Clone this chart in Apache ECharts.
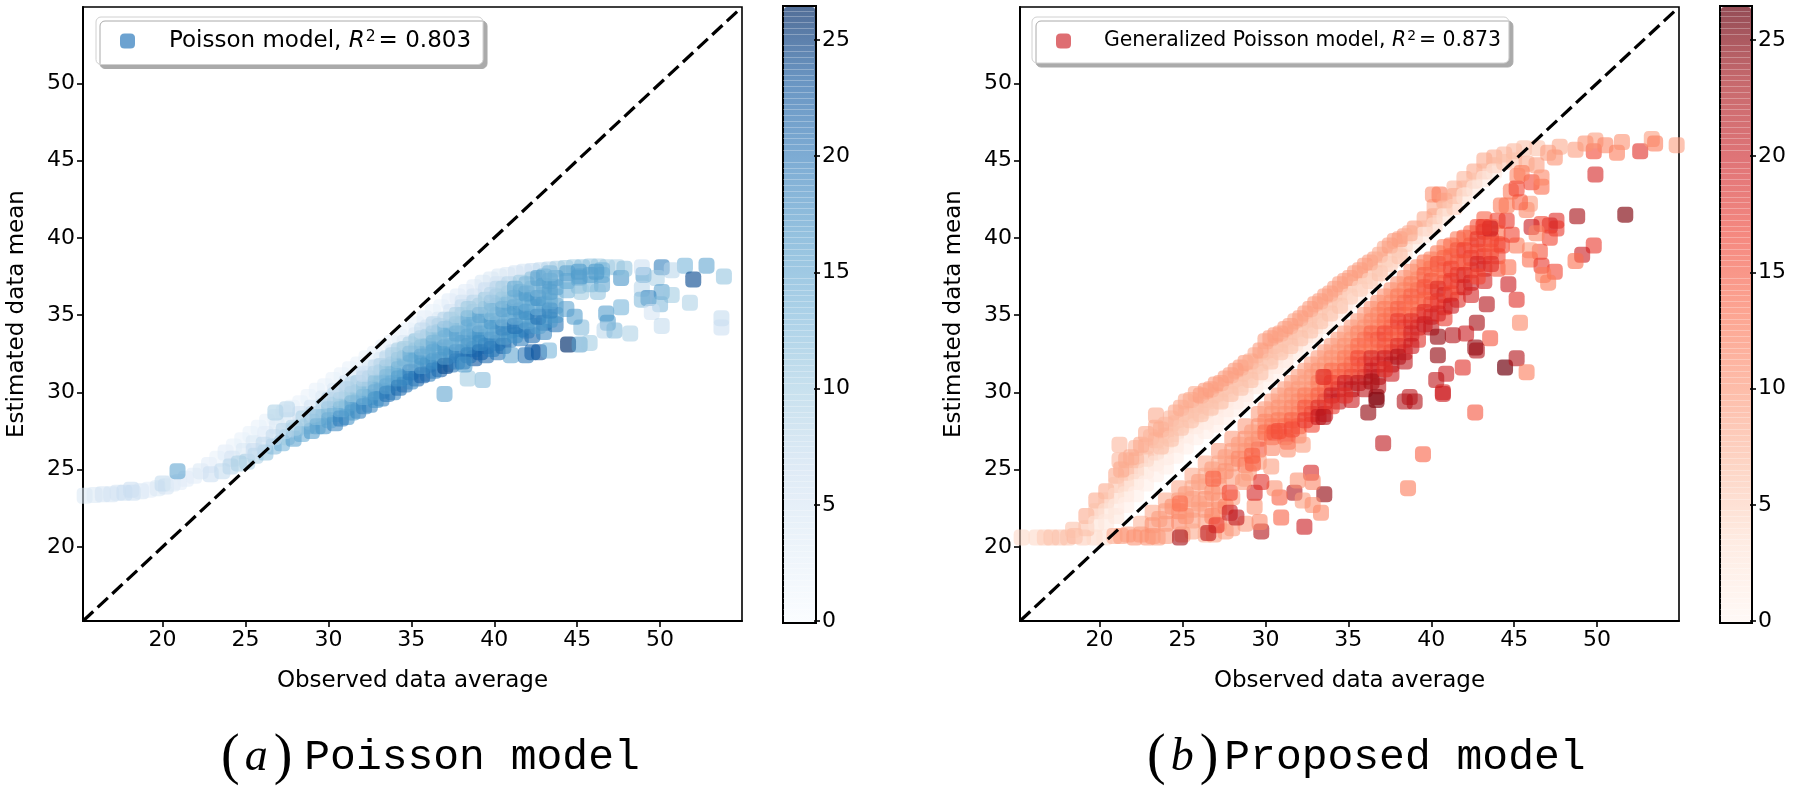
<!DOCTYPE html>
<html>
<head>
<meta charset="utf-8">
<title>Poisson vs proposed model</title>
<script src="https://cdn.jsdelivr.net/npm/echarts@6/dist/echarts.min.js"></script>
<style>
body { margin: 0; background: #fff; }
#main { width: 1800px; height: 788px; }
</style>
</head>
<body>
<div id="main"></div>
<script>
// every row is [observed average, estimated mean, colour value]
const poissonRidge = [
[15.3,23.3,4],[15.9,23.35,4],[16.4,23.4,5],[16.9,23.4,5],[17.3,23.5,5],[17.7,23.5,6],[18.1,23.7,6],[18.2,23.5,6],[18.7,23.6,5],[19.2,23.7,3],
[19.7,23.8,4],[20.2,23.9,5],[20.0,24.1,7],[20.6,24.1,4],[21,24.2,3],[21.4,24.4,3],[21.9,24.6,3],[22.3,24.9,4],[22.8,25.3,3],[23.3,25.7,2],
[23.8,26.1,3],[24.3,26.5,2],[24.8,26.9,2],[25.3,27.3,2],[25.8,27.7,2],[26.3,28.1,2],[26.8,28.4,2],[27.3,28.7,2],[27.8,29,2],[28.3,29.3,2],
[28.8,29.7,2],[29.3,30.1,2],[29.8,30.4,2],[30.3,30.8,2],[30.8,31.1,2],[31.3,31.5,2],[31.8,31.8,2],[32.3,32.2,2],[32.8,32.5,2],[33.3,32.9,2],
[33.8,33.2,2],[34.3,33.6,2],[34.8,34,2],[35.3,34.4,2],[35.8,34.8,3],[36.3,35.2,2],[36.8,35.5,2],[37.3,35.9,3],[37.8,36.2,3],[38.3,36.5,3],
[38.8,36.8,3],[39.3,37.1,4],[39.8,37.3,4],[40.3,37.5,4],[40.8,37.6,4],[41.3,37.7,5],[41.8,37.8,5],[42.3,37.85,6],[42.8,37.9,7],[43.3,37.95,8],
[43.8,38,9],[44.3,38.05,10],[44.8,38.1,10],[45.3,38.1,11],[45.8,38.15,11],[46.3,38.15,10],[46.8,38.1,10],[47.4,38.1,9]
];
const poissonSecond = [
[24.2,25.7,5],[24.9,26.2,4],[25.5,26.7,4],[26.2,27.3,3],[26.9,27.8,4],[27.6,28.2,4],[28.3,28.6,5],[29,29,5],[29.7,29.6,4],[30.4,30.1,4],
[31.1,30.6,5],[31.8,31.1,4],[32.5,31.6,4],[33.2,32.1,4],[33.9,32.6,5],[34.6,33.2,4],[35.3,33.7,4],[36,34.2,5],[36.7,34.7,4],[37.4,35.2,5],
[38.1,35.8,5],[38.8,36.2,5],[39.5,36.6,6],[40.2,37,5]
];
const poissonBand = [
[22.9,24.7,6],[23.6,24.9,7],[24.1,25.2,8],[24.6,25.4,9],[25.1,25.5,9],[25.6,25.9,9],[26.2,26.1,11],[26.7,26.5,12],[27.2,26.7,13],[27.5,27.1,10],
[27.9,27,15],[28,27.6,8],[28.4,27.3,14],[28.7,27.8,11],
[29,27.5,16],[29,28.1,12],[29.7,27.8,17],[29.7,28.4,13],[29.7,29.1,9],
[30.4,28,18],[30.4,28.6,14],[30.4,29.2,11],[30.4,29.8,8],
[31.1,28.4,17],[31.1,29,15],[31.1,29.6,11],[31.1,30.2,9],
[31.8,28.8,19],[31.8,29.4,14],[31.8,30,12],[31.8,30.6,10],
[32.5,29.2,18],[32.5,29.7,16],[32.5,30.3,13],[32.5,30.9,11],
[33.2,29.6,19],[33.2,30.1,17],[33.2,30.7,14],[33.2,31.3,12],[33.2,31.7,9],
[33.9,30,18],[33.9,30.6,15],[33.9,31.2,13],[33.9,31.8,11],[33.9,32.4,9],
[34.6,30.5,20],[34.6,31,17],[34.6,31.6,13],[34.6,32.2,15],[34.6,32.8,10],
[35.3,30.9,21],[35.3,31.5,16],[35.3,32.1,14],[35.3,32.7,13],[35.3,33.3,11],
[36,31.2,19],[36,31.8,18],[36,32.4,13],[36,33,15],[36,33.6,11],
[36.7,31.5,22],[36.7,32.1,16],[36.7,32.7,15],[36.7,33.3,13],[36.7,33.9,12],[36.7,34.3,9],
[37.4,31.8,20],[37.4,32.4,17],[37.4,33,14],[37.4,33.6,13],[37.4,34.2,14],[37.4,34.7,10],
[38.1,32,21],[38.1,32.6,18],[38.1,33.2,15],[38.1,33.8,13],[38.1,34.4,12],[38.1,35,10],[38.1,35.5,7],
[38.8,32.2,23],[38.8,32.8,19],[38.8,33.4,14],[38.8,34,16],[38.8,34.6,13],[38.8,35.2,11],[38.8,35.8,8],
[39.5,32.4,21],[39.5,33,20],[39.5,33.6,15],[39.5,34.2,14],[39.5,34.8,12],[39.5,35.4,13],[39.5,36,10],
[40.2,32.6,20],[40.2,33.2,17],[40.2,33.8,16],[40.2,34.4,15],[40.2,35,14],[40.2,35.6,12],[40.2,36.2,12],[40.2,36.7,8],
[40.9,33.4,18],[40.9,34,16],[40.9,34.6,16],[40.9,35.2,13],[40.9,35.8,14],[40.9,36.4,11],[40.9,37,8],
[41.6,33.5,19],[41.6,34.1,17],[41.6,34.7,15],[41.6,35.3,18],[41.6,35.9,12],[41.6,36.5,15],[41.6,37.1,10],
[42.3,33.7,21],[42.3,34.3,15],[42.3,34.9,16],[42.3,35.5,14],[42.3,36.1,15],[42.3,36.7,13],[42.3,37.3,11],
[43,33.9,18],[43,34.5,19],[43,35.1,13],[43,35.7,15],[43,36.3,12],[43,36.9,16],[43,37.5,14],
[43.7,34.4,20],[43.7,35,16],[43.7,35.6,15],[43.7,36.2,11],[43.7,36.8,16],[43.7,37.4,15],
[44.4,36.6,13],[44.4,37.2,14],[44.4,37.7,15],[45.1,36.9,12],[45.1,37.4,14],[45.1,37.8,16],
[45.8,37,13],[45.8,37.6,15],[46.5,37,15],[46.5,37.6,14],[46.5,37.9,13]
];
const poissonFill = [
[25.5,26.2,6],[26.1,26.6,7],[26.7,27.1,7],[27.3,27.5,8],[27.9,27.7,9],[28.5,28.3,9],[29.1,28.6,8],[29.35,27.8,15],[29.35,28.4,11],
[30.05,28.2,15],[30.05,28.9,12],[30.05,29.5,8],[30.75,28.3,19],[30.75,28.9,13],[30.75,29.5,10],[30.75,30.1,7],
[31.45,28.7,16],[31.45,29.3,15],[31.45,29.9,10],[31.45,30.5,8],[32.15,29.1,18],[32.15,29.7,13],[32.15,30.3,11],[32.15,30.9,8],[32.15,31.2,6],
[32.85,29.5,17],[32.85,30,15],[32.85,30.6,12],[32.85,31.2,10],[32.85,31.6,7],[33.55,29.9,20],[33.55,30.4,15],[33.55,31,13],[33.55,31.6,11],[33.55,32.2,8],
[34.25,30.3,21],[34.25,30.9,16],[34.25,31.5,14],[34.25,32.1,11],[34.25,32.7,9],[34.95,30.7,18],[34.95,31.3,19],[34.95,31.9,12],[34.95,32.5,14],[34.95,33.1,9],
[35.65,31.1,22],[35.65,31.7,15],[35.65,32.3,16],[35.65,32.9,12],[35.65,33.5,10],[35.65,34,7],[36.35,31.4,19],[36.35,32,17],[36.35,32.6,14],[36.35,33.2,14],[36.35,33.8,11],[36.35,34.4,8],
[37.05,31.7,24],[37.05,32.3,15],[37.05,32.9,16],[37.05,33.5,12],[37.05,34.1,13],[37.05,34.7,8],[37.75,32,19],[37.75,32.6,18],[37.75,33.2,13],[37.75,33.8,15],[37.75,34.4,11],[37.75,35,9],
[38.45,32.4,20],[38.45,33,16],[38.45,33.6,15],[38.45,34.2,13],[38.45,34.8,14],[38.45,35.4,10],[39.15,32.6,22],[39.15,33.2,17],[39.15,33.8,17],[39.15,34.4,12],[39.15,35,15],[39.15,35.6,9],
[39.85,32.8,19],[39.85,33.4,18],[39.85,34,13],[39.85,34.6,16],[39.85,35.2,11],[39.85,35.8,12],[39.85,36.3,8],[40.55,33,21],[40.55,33.6,15],[40.55,34.2,18],[40.55,34.8,12],[40.55,35.4,15],[40.55,36,11],[40.55,36.7,9],
[41.25,33.7,17],[41.25,34.3,20],[41.25,34.9,13],[41.25,35.5,16],[41.25,36.1,12],[41.25,36.7,14],[41.95,34,19],[41.95,34.6,14],[41.95,35.2,17],[41.95,35.8,13],[41.95,36.4,16],[41.95,37,12],
[42.65,34.3,15],[42.65,34.9,20],[42.65,35.5,13],[42.65,36.1,17],[42.65,36.7,12],[42.65,37.4,15],[43.35,34.7,16],[43.35,35.3,18],[43.35,35.9,14],[43.35,36.5,15],[43.35,37.2,15],[43.35,37.7,12]
];
const poissonOuter = [
[20.9,24.9,15],[26.8,28.7,9],[27.5,28.9,8],[37,29.9,15],[39.3,30.8,12],[38.4,30.9,10],[38.2,31.8,16],
[41,32.4,15],[41.9,32.4,20],[42.3,32.6,22],[42.7,32.6,23],[43.3,32.7,13],[44.45,33.1,26],[45.15,33.1,15],[45.75,33.2,10],
[45.25,34.2,12],[44.85,34.9,16],[44.35,35.4,15],[46.75,35.1,16],[46.85,34.5,16],[46.65,34,8],[47.25,34,12],[48.2,33.8,9],[47.65,35.5,13],
[50.1,38.1,19],[51.5,38.2,13],[52.8,38.2,15],[53.85,37.5,11],[52,37.3,24],[49,37.6,16],[48.9,38.1,6],[50.7,37.9,8],[49.8,37.4,9],
[47.65,37.4,17],[47.85,38,11],[48.9,36.7,8],[50.1,36.5,15],[50.7,36.3,10],[49.3,36.1,18],[48.9,36,12],[50,35.7,12],[51.8,35.8,9],[49.5,35.2,5],
[50.1,34.3,7],[53.7,34.8,7],[53.7,34.2,6],[55.2,33.8,8],[45.25,36.5,10],[46.25,36.5,11],[46.15,37.8,16],[45.15,37.5,15]
];

const proposedUpper = [
[15.3,20.6,4],[16.2,20.6,4],[16.7,20.6,5],[17.1,20.6,6],[17.6,20.6,6],[18.1,20.6,6],[18.5,20.7,7],[18.4,21.1,6],[19,20.6,5],[19.7,20.6,4],[20.3,20.6,3],
[19.2,22,8],[19.2,21.2,6],[19.8,23,8],[19.8,22.3,6],[19.8,21.5,3],[20.4,23.6,8],[20.4,23,6],[20.4,22.3,3],[20.4,21.6,2],
[21,24.6,8],[21,24,6],[21,23.3,4],[21,22.6,2],[21,22,2],[21.2,26.6,7],[21.2,25.6,7],[21.6,25.6,8],[21.6,24.8,7],[21.6,24.1,5],[21.6,23.4,3],[21.6,22.7,1],
[22.2,26.4,7],[22.2,25.6,8],[22.2,24.9,6],[22.2,24.2,3],[22.2,23.4,1],[22.8,27.3,8],[22.8,26.5,7],[22.8,25.7,6],[22.8,24.9,3],[22.8,24.1,1],
[23.4,28.5,8],[23.4,27.7,8],[23.4,26.9,8],[23.4,26.1,6],[23.4,25.4,3],[23.4,24.7,1],[24,27.9,7],[24,27.2,7],[24,26.5,5],[24,25.8,2],[24,25.2,1],
[24.6,28.7,8],[24.6,28,7],[24.6,27.3,6],[24.6,26.6,3],[24.6,25.9,1],[25.2,29.4,8],[25.2,28.6,7],[25.2,27.9,5],[25.2,27.2,2],[25.2,26.5,1],
[25.8,29.9,8],[25.8,29.2,7],[25.8,28.5,6],[25.8,27.8,3],[25.8,27.1,1],[26.4,30.1,9],[26.4,29.5,7],[26.4,28.8,6],[26.4,28.1,3],[26.4,27.5,1],
[27,30.5,9],[27,29.8,8],[27,29.1,5],[27,28.4,2],[27,27.9,1],[27.6,30.9,9],[27.6,30.2,7],[27.6,29.5,5],[27.6,28.9,2],[27.6,28.4,1],
[28.2,31.4,9],[28.2,30.7,7],[28.2,30,5],[28.2,29.4,2],[28.2,28.9,1],[28.8,31.9,9],[28.8,31.2,8],[28.8,30.5,5],[28.8,29.9,2],[28.8,29.5,1],
[29.4,32.4,8],[29.4,31.7,7],[29.4,31,5],[29.4,30.4,2],[30,33.3,9],[30,32.6,7],[30,31.9,6],[30,31.2,3],[30,30.7,1],
[30.6,33.7,9],[30.6,33,8],[30.6,32.3,6],[30.6,31.7,3],[30.6,31.2,1],[31.2,34.1,9],[31.2,33.4,7],[31.2,32.7,5],[31.2,32.1,3],[31.2,31.8,1],
[31.8,34.6,8],[31.8,33.9,8],[31.8,33.2,5],[31.8,32.6,2],[32.4,35.1,9],[32.4,34.4,7],[32.4,33.7,4],[32.4,33.1,2],
[33,35.7,9],[33,35,7],[33,34.3,5],[33,33.7,2],[33.6,36.2,9],[33.6,35.5,7],[33.6,34.8,4],[33.6,34.3,2],
[34.2,36.7,9],[34.2,36,7],[34.2,35.3,4],[34.2,34.8,1],[34.8,37.2,9],[34.8,36.5,7],[34.8,35.8,4],[34.8,35.4,1],
[35.4,37.7,9],[35.4,37,6],[35.4,36.4,3],[35.4,35.9,1],[36,38.2,9],[36,37.5,7],[36,36.9,4],[36,36.5,1],
[36.6,38.6,9],[36.6,38,6],[36.6,37.4,3],[37.2,39.3,8],[37.2,38.6,7],[37.2,38,3],[37.8,39.8,9],[37.8,39.2,6],[37.8,38.6,3],
[38.4,40.1,9],[38.4,39.6,7],[38.4,39.1,3],[39,40.6,9],[39,40.1,6],[39,39.7,2],[39.6,41.2,8],[39.6,40.6,7],[39.6,40.2,2],
[40.2,42,8],[40.2,41.4,8],[40.2,40.8,4],[40.1,42.8,10],[40.5,42.8,12],[40.8,42.4,9],[40.8,41.9,6],[40.8,41.4,3],
[41.4,43.2,7],[41.4,42.7,8],[41.4,42,5],[42,43.8,7],[42,43.2,7],[42,42.7,3],[42.6,44.3,8],[42.6,43.7,6],[42.6,43.2,2],
[43.2,45,8],[43.2,44.3,7],[43.2,43.8,2],[43.8,45.2,8],[43.8,44.7,7],[43.8,44.3,2],[44.4,45.4,7],[44.4,44.9,6],[45,45.6,7],[45,45,6],[45.6,45.8,6],[46.4,45.8,6]
];
const proposedUpperFill = [
[21.3,25,8],[21.9,25.8,8],[22.5,26.6,8],[23.1,27.1,7],[23.7,27.6,8],[24.3,28.3,7],[24.9,29,8],[25.5,29.5,8],[26.1,29.8,9],[26.7,30.2,9],[27.3,30.6,9],[27.9,31.1,9],
[28.5,31.6,9],[29.1,32,8],[29.7,32.7,9],[30.3,33.5,9],[30.9,33.8,9],[31.5,34.3,9],[32.1,34.8,9],[32.7,35.4,9],[33.3,35.9,9],[33.9,36.4,9],[34.5,37,9],[35.1,37.4,9],
[35.7,37.9,9],[36.3,38.4,9],[36.9,38.9,8],[37.5,39.5,9],[38.1,39.9,9],[38.7,40.3,8],
[23.7,26.5,6],[24.3,27,6],[24.9,27.7,6],[25.5,28.2,6],[26.1,28.6,6],[26.7,29,6],[27.3,29.4,6],[27.9,29.9,6],[28.5,30.3,6],[29.1,30.8,6],[29.7,31.3,6],[30.3,32,6],
[30.9,32.6,6],[31.5,33,6],[32.1,33.5,6],[32.7,34,6],[33.3,34.6,6],[33.9,35.1,6],[34.5,35.6,6],[35.1,36.2,5],[35.7,36.7,5],[36.3,37.2,5],[36.9,37.7,6],[37.5,38.3,5],[38.1,38.8,6]
];
const proposedLower = [
[20.9,20.7,8],[21.7,20.8,9],[22.5,21.5,7],[22.5,20.8,9],[23.2,22.2,8],[23.2,21.4,10],[23.2,20.7,10],[24,23,8],[24,22.3,9],[24,21.5,10],[24,20.7,9],
[24.8,23.8,8],[24.8,23,9],[24.8,22.3,11],[24.8,21.6,11],[25.6,24.6,8],[25.6,23.8,8],[25.6,23.1,9],[25.6,22.4,9],[25.6,21.7,9],[25.6,21,8],
[26.4,25.4,8],[26.4,24.6,8],[26.4,23.9,8],[26.4,23.1,10],[26.4,22.4,10],[26.4,21.6,9],[26.4,20.8,8],
[27.2,26.2,9],[27.2,25.4,8],[27.2,24.6,9],[27.2,23.9,10],[27.2,23,10],[27.2,22.4,10],[27.2,21.5,9],
[28,27,9],[28,26.2,9],[28,25.4,10],[28,24.5,9],[28,23.2,9],[28,21.2,9],[28.8,27.8,9],[28.8,27,10],[28.8,26.2,11],[28.8,25.3,13],[28.8,24.4,8],[28.8,21.5,9],
[29.6,28.6,9],[29.6,27.8,10],[29.6,27,12],[29.6,26.3,15],[29.6,25.5,9],[30.4,29.4,9],[30.4,28.6,10],[30.4,27.8,13],[30.4,27.1,14],[30.4,26.4,11],
[31.2,30.2,9],[31.2,29.4,9],[31.2,28.6,11],[31.2,27.8,14],[31.2,27.1,13],[32,31,9],[32,30.2,10],[32,29.4,12],[32,28.6,13],[32,27.8,15],[32,27.2,12],
[32.8,31.8,9],[32.8,31,10],[32.8,30.2,11],[32.8,29.4,13],[32.8,28.6,17],[32.8,27.9,16],[33.6,32.6,9],[33.6,31.8,10],[33.6,31,17],[33.6,30.2,15],[33.6,29.4,19],[33.6,28.6,20],
[34.4,33.4,9],[34.4,32.6,10],[34.4,31.8,11],[34.4,31,15],[34.4,30.2,19],[34.4,29.4,21],[35.2,34.2,9],[35.2,33.4,10],[35.2,32.6,13],[35.2,31.8,15],[35.2,31,18],[35.2,30.2,22],[35.2,29.5,20],
[36,35,9],[36,34.2,11],[36,33.4,15],[36,32.6,12],[36,31.8,17],[36,31,20],[36,30.2,21],[36.8,35.8,10],[36.8,35,12],[36.8,34.2,12],[36.8,33.4,16],[36.8,32.6,14],[36.8,31.8,18],[36.8,31,22],[36.8,30.4,21],
[37.6,36.6,10],[37.6,35.8,11],[37.6,35,14],[37.6,34.2,15],[37.6,33.4,13],[37.6,32.6,17],[37.6,31.8,22],[37.6,31.2,20],[38.4,37.4,10],[38.4,36.6,12],[38.4,35.8,15],[38.4,35,14],[38.4,34.2,17],[38.4,33.4,16],[38.4,32.6,19],[38.4,32,21],
[39.2,38.1,10],[39.2,37.3,11],[39.2,36.6,14],[39.2,35.8,13],[39.2,35,17],[39.2,34.2,19],[39.2,33.4,18],[40,38.6,11],[40,38,13],[40,37.2,16],[40,36.5,15],[40,35.7,17],[40,34.9,19],[40,34.2,21],
[40.8,39.4,11],[40.8,38.7,15],[40.8,37.9,14],[40.8,37.1,16],[40.8,36.3,20],[40.8,35.5,18],[40.8,34.8,17],[41.6,39.9,12],[41.6,39.2,17],[41.6,38.4,15],[41.6,37.6,18],[41.6,36.8,15],[41.6,36,18],
[42.4,40.3,13],[42.4,39.5,15],[42.4,38.7,17],[42.4,37.9,16],[42.4,37.1,20],[42.4,36.3,19],[43.2,41.2,14],[43.2,40.4,18],[43.2,39.6,14],[43.2,38.8,17],[43.2,38,18],[43.2,37.2,19],
[44,41.1,16],[44,40.3,13],[44,39.6,15],[44,38.8,16],[44,38,15],[44.2,42.1,12],[44.8,43,12],[45.2,44,11]
];
const proposedLowerFill = [
[21.3,20.7,9],[22.1,20.6,10],[22.9,20.6,10],[23.5,20.6,9],[25,20.8,9],[26.9,20.8,9],[27.6,21,9],
[23.6,21.8,9],[24.4,22.6,10],[25.2,23.4,9],[25.2,22,10],[26,24.2,9],[26,22.8,9],[26.8,25,9],[26.8,23.5,10],[26.8,22,11],[27.6,25.8,9],[27.6,24.9,10],[27.6,22.6,11],
[28.4,26.6,9],[28.4,25.7,11],[29.2,27.4,9],[29.2,26.6,10],[29.2,25.9,14],[29,24.8,9],
[30,28.9,9],[30,28.1,11],[30,27.4,13],[30.8,29.8,9],[30.8,29,10],[30.8,28.2,12],[30.8,27.5,16],
[31.6,30.6,9],[31.6,29.8,10],[31.6,29,11],[31.6,28.2,14],[31.6,27.6,16],[32.4,31.4,9],[32.4,30.6,9],[32.4,29.8,12],[32.4,29,15],[32.4,28.2,17],
[33.2,32.2,9],[33.2,31.4,10],[33.2,30.6,12],[33.2,29.8,14],[33.2,29,18],[33.2,28.4,20],[34,33,9],[34,32.2,10],[34,31.4,13],[34,30.6,16],[34,29.8,20],[34,29.1,17],
[34.8,33.8,9],[34.8,33,10],[34.8,32.2,12],[34.8,31.4,14],[34.8,30.6,20],[34.8,29.8,18],[35.6,34.6,9],[35.6,33.8,11],[35.6,33,13],[35.6,32.2,16],[35.6,31.4,15],[35.6,30.6,21],
[36.4,35.4,10],[36.4,34.6,11],[36.4,33.8,14],[36.4,33,13],[36.4,32.2,19],[36.4,31.4,20],[36.4,30.7,23],[37.2,36.2,10],[37.2,35.4,12],[37.2,34.6,13],[37.2,33.8,16],[37.2,33,15],[37.2,32.2,20],[37.2,31.5,18],
[38,37,10],[38,36.2,12],[38,35.4,14],[38,34.6,17],[38,33.8,15],[38,33,18],[38,32.3,22],[38.8,37.8,10],[38.8,37,12],[38.8,36.2,14],[38.8,35.4,13],[38.8,34.6,18],[38.8,33.8,19],[38.8,33,20],
[39.6,38.4,12],[39.6,37.6,14],[39.6,36.8,15],[39.6,36,14],[39.6,35.2,18],[39.6,34.4,20],[40.4,39,12],[40.4,38.3,15],[40.4,37.5,13],[40.4,36.7,18],[40.4,35.9,17],[40.4,35.1,19],
[41.2,39.5,13],[41.2,38.8,14],[41.2,38,16],[41.2,37.2,17],[41.2,36.4,16],[41.2,35.6,20],[42,40,14],[42,39.2,16],[42,38.4,15],[42,37.6,18],[42,36.8,19],
[42.8,40.7,15],[42.8,39.9,17],[42.8,39.1,16],[42.8,38.3,19],[42.8,37.5,16],[43.6,40.7,14],[43.6,39.9,16],[43.6,39.1,15],[43.6,38.3,18]
];
const proposedOuter = [
[51.7,41.5,25],[48.8,41.4,23],[49.9,44.1,19],[52.6,45.6,18],[51.2,45.5,12],[49.8,45.6,16],[49.9,46.3,9],[51.5,46.2,10],[53.3,46.4,9],[53.5,46.1,12],[54.8,46,9],
[50.5,46,11],[49.3,46.1,10],[48.7,45.7,9],[47.75,45.9,8],[47.45,45.2,10],[49.8,39.5,17],[49.1,38.9,20],[48.7,38.5,13],[46.55,39.1,15],[45.95,39.2,9],[45.95,38.6,13],
[46.65,38.2,17],[47.45,37.8,16],[46.75,37.6,12],[47.05,37.1,12],[47.55,41.1,18],[47.55,40.6,17],[47.15,40.8,19],[47.15,40,16],[46.65,40.9,16],[46.05,40.7,20],[46.35,40.3,11],
[45.15,39.5,12],[44.85,40.2,16],[44.25,39.5,16],[44.55,41.1,17],[43.55,40.6,20],[43.15,40.7,17],[45.75,41.8,11],[45.95,42.2,9],[45.35,42.3,14],[44.55,42.1,12],[45.15,43.2,16],
[46.05,43.6,16],[46.65,43.3,13],[46.65,43.9,11],[46.35,44.7,9],[45.75,44.8,8],[45.45,44.2,12],[47.05,45.5,9],
[44.45,31.6,26],[45.15,32.2,22],[45.75,31.3,12],[45.35,34.5,11],[45.15,36,18],[43.55,33.5,15],[42.75,32.7,22],[42.65,32.9,24],[41.9,31.6,18],[42.75,34.5,23],[43.35,35.7,22],
[42.1,33.8,20],[41.3,33.7,22],[40.4,33.6,24],[40.4,32.4,24],[40.9,31.2,20],[40.3,30.8,21],[40.7,30,19],[38.7,29.7,21],[36.7,29.7,24],[33.5,31,18],[44.65,37,20],[44.65,38.1,13],
[42.65,28.7,15],[37.1,26.7,21],[39.5,26,14],[38.6,23.8,12],[33.55,23.4,24],[31.75,23.5,22],[32.75,24.8,19],[32.85,24.2,11],[31.95,24.3,10],[30.85,23.2,14],[30.55,23.8,10],
[32.25,23,9],[32.85,22.7,10],[33.35,22.2,11],[30.95,21.9,14],[32.35,21.3,20],[29.75,21,22],[29.65,21.6,11],[27.85,22.2,20],[28.25,21.9,21],[29.35,22.6,10],[29.35,23.5,19],[29.75,24.2,18],
[24.85,20.6,23],[27.05,21.4,17],[26.55,20.9,21],[39,29.4,22],[38.4,29.4,22],[36.2,28.7,24],[40.7,29.9,20],[36.7,29.5,25],[33.5,28.4,22],[30.55,27.4,15],[31.35,26.8,15],[32.25,26.6,9],
[31.35,26.3,10],[29.25,25.4,14],[30.35,25.2,9],[26.85,24.4,14],[27.85,23.5,16],[28.65,24.2,9],[24.85,22.8,13]
];

const xTicks = [20, 25, 30, 35, 40, 45, 50];
const yTicks = [20, 25, 30, 35, 40, 45, 50];
const barTicks = [0, 5, 10, 15, 20, 25];
const axisMin = 15.2;
const axisMax = 54.94;
const barMax = 26.46;
const identityLine = [[axisMin, axisMin], [54.65, 54.65]];

const blues = ['rgba(247,251,255,0.56)', 'rgba(222,235,247,0.56)', 'rgba(198,219,239,0.56)', 'rgba(158,202,225,0.56)',
    'rgba(107,174,214,0.56)', 'rgba(66,146,198,0.56)', 'rgba(33,113,181,0.58)', 'rgba(8,81,156,0.6)', 'rgba(8,48,107,0.7)'];
const reds = ['rgba(255,245,240,0.6)', 'rgba(254,224,210,0.6)', 'rgba(252,187,161,0.6)', 'rgba(252,146,114,0.6)',
    'rgba(251,106,74,0.6)', 'rgba(239,59,44,0.6)', 'rgba(203,24,29,0.6)', 'rgba(165,15,21,0.62)', 'rgba(103,0,13,0.7)'];

const markerShape = 'path://M3,0 L7,0 Q10,0 10,3 L10,7 Q10,10 7,10 L3,10 Q0,10 0,7 L0,3 Q0,0 3,0 Z';
const font = 'DejaVu Sans';

function legendRich(size, pad) {
    return {
        pad: { width: pad, height: 24 },
        t: { fontFamily: font, fontSize: size, color: '#000' },
        i: { fontFamily: font, fontSize: size, fontStyle: 'italic', color: '#000' },
        s: { fontFamily: font, fontSize: size * 0.68, color: '#000', verticalAlign: 'top', padding: [0, 3, 8, 1] }
    };
}

function captionRich(pad) {
    return {
        p: { fontFamily: 'Liberation Serif', fontSize: 56, fontWeight: 'normal', color: '#000' },
        i: { fontFamily: 'Liberation Serif', fontStyle: 'italic', fontWeight: 'normal', fontSize: 46, color: '#000', padding: [0, 6, 0, 5] },
        t: { fontFamily: 'Liberation Mono', fontSize: 43, fontWeight: 'normal', color: '#000', padding: [0, 0, 0, pad] }
    };
}

function valueAxis(gridIndex, position, name, ticks) {
    return {
        type: 'value',
        gridIndex: gridIndex,
        position: position,
        min: axisMin,
        max: axisMax,
        name: name,
        nameLocation: 'middle',
        nameGap: position == 'left' ? 54 : 49,
        nameTextStyle: { fontFamily: font, fontSize: 23, color: '#000' },
        axisLine: { show: true, onZero: false, lineStyle: { color: '#000', width: 2 } },
        axisTick: { show: true, customValues: ticks, length: 6, lineStyle: { color: '#000', width: 1.6 } },
        axisLabel: { show: true, customValues: ticks, margin: 8, fontFamily: font, fontSize: 22, color: '#000' },
        splitLine: { show: false }
    };
}

function barAxis(gridIndex) {
    return {
        type: 'value',
        gridIndex: gridIndex,
        position: 'right',
        min: 0,
        max: barMax,
        interval: 5,
        z: 6,
        axisLine: { show: false, onZero: false },
        axisTick: { show: true, customValues: barTicks, length: 6, lineStyle: { color: '#000', width: 1.6 } },
        axisLabel: { show: true, customValues: barTicks, margin: 8, fontFamily: font, fontSize: 22, color: '#000' },
        splitLine: { show: false },
        minorTick: { show: false, splitNumber: 20 },
        minorSplitLine: { show: true, lineStyle: { color: 'rgba(255,255,255,0.28)', width: 1 } }
    };
}

function hiddenAxis(gridIndex) {
    return { type: 'value', gridIndex: gridIndex, min: 0, max: 1, show: false };
}

function scatterSeries(name, gridIndex, points) {
    return {
        name: name,
        type: 'scatter',
        xAxisIndex: gridIndex,
        yAxisIndex: gridIndex,
        symbol: markerShape,
        symbolSize: 16,
        clip: true,
        large: false,
        encode: { x: 0, y: 1 },
        itemStyle: { opacity: 1 },
        data: points,
        z: 2
    };
}

function identitySeries(gridIndex) {
    return {
        type: 'line',
        xAxisIndex: gridIndex,
        yAxisIndex: gridIndex,
        data: identityLine,
        symbol: 'none',
        lineStyle: { color: '#000', width: 3.2, type: [14, 6] },
        z: 3
    };
}

function colourbar(seriesIndex, left, width, colours) {
    return {
        type: 'continuous',
        seriesIndex: seriesIndex,
        dimension: 2,
        min: 0,
        max: barMax,
        left: left - 1,
        top: 5,
        itemWidth: width,
        itemHeight: 615,
        calculable: false,
        showLabel: false,
        hoverLink: false,
        text: null,
        padding: 1,
        borderColor: '#000',
        borderWidth: 2,
        inRange: { color: colours },
        outOfRange: { color: ['#fff'] }
    };
}

function legendBox(name, label, left, size, pad, padRight, colour) {
    return {
        left: left,
        top: 17,
        padding: [12, padRight, 12, 24],
        icon: markerShape,
        itemWidth: 15,
        itemHeight: 15,
        backgroundColor: '#fff',
        borderColor: '#d0d0d0',
        borderWidth: 1,
        borderRadius: 5,
        shadowColor: '#aaa',
        shadowBlur: 0,
        shadowOffsetX: 4,
        shadowOffsetY: 4,
        data: [{ name: name, icon: markerShape, itemStyle: { color: colour } }],
        formatter: function () { return label; },
        textStyle: { rich: legendRich(size, pad) },
        selectedMode: false
    };
}

const poissonName = 'Poisson model';
const proposedName = 'Generalized Poisson model';

let myChart = echarts.init(document.getElementById('main'), null, { renderer: 'canvas' });
let option = {
    animation: false,
    backgroundColor: '#fff',
    title: [
        { text: '{p|(}{i|a}{p|)}{t|Poisson model}', left: 216, top: 725, textStyle: { fontWeight: 'normal', rich: captionRich(12) } },
        { text: '{p|(}{i|b}{p|)}{t|Proposed model}', left: 1142, top: 725, textStyle: { fontWeight: 'normal', rich: captionRich(6) } }
    ],
    legend: [
        legendBox(poissonName, '{pad|}{t|Poisson model, }{i|R}{s|2}{t|= 0.803}', 96, 23, 29, 12, '#6ca2d0'),
        legendBox(proposedName, '{pad|}{t|Generalized Poisson model, }{i|R}{s|2}{t|= 0.873}', 1032, 20.4, 28, 8, '#de6e72')
    ],
    grid: [
        { left: 83, top: 7, width: 659, height: 614, show: true, borderColor: '#000', borderWidth: 1.6 },
        { left: 1020, top: 7, width: 659, height: 614, show: true, borderColor: '#000', borderWidth: 1.6 },
        { left: 783, top: 6, width: 31, height: 615 },
        { left: 1720, top: 6, width: 30, height: 615 }
    ],
    xAxis: [
        valueAxis(0, 'bottom', 'Observed data average', xTicks),
        valueAxis(1, 'bottom', 'Observed data average', xTicks),
        hiddenAxis(2),
        hiddenAxis(3)
    ],
    yAxis: [
        valueAxis(0, 'left', 'Estimated data mean', yTicks),
        valueAxis(1, 'left', 'Estimated data mean', yTicks),
        barAxis(2),
        barAxis(3)
    ],
    visualMap: [colourbar(0, 783, 31, blues), colourbar(2, 1720, 30, reds)],
    series: [
        scatterSeries(poissonName, 0, poissonRidge.concat(poissonSecond, poissonBand, poissonFill, poissonOuter)),
        identitySeries(0),
        scatterSeries(proposedName, 1, proposedUpper.concat(proposedUpperFill, proposedLower, proposedLowerFill, proposedOuter)),
        identitySeries(1),
        { type: 'line', xAxisIndex: 2, yAxisIndex: 2, data: [] },
        { type: 'line', xAxisIndex: 3, yAxisIndex: 3, data: [] }
    ]
};
myChart.setOption(option);
</script>
</body>
</html>
